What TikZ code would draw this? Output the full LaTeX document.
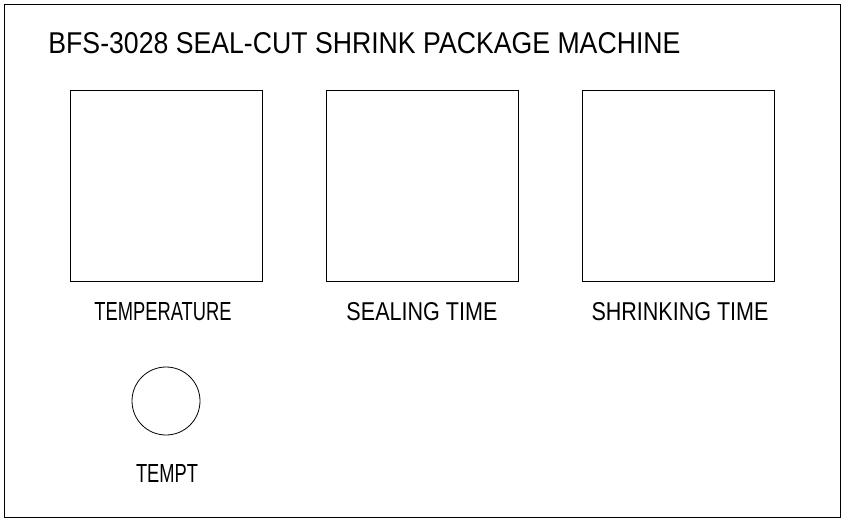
\documentclass[tikz,border=0pt]{standalone}
\usepackage{fontspec}
\usepackage{graphicx}
\setmainfont{Liberation Sans}
\begin{document}
\begin{tikzpicture}[x=1pt,y=-1pt,line width=0.8pt,
  panel/.style={draw,minimum width=192pt,minimum height=191pt,inner sep=0pt},
  lbl/.style={inner sep=0pt,anchor=center}]
\useasboundingbox (0,0) rectangle (845,522);
\node[draw,minimum width=836pt,minimum height=513pt,inner sep=0pt] (frame) at (422,260.5) {};
\node[lbl,anchor=west] (title) at (48,43) {\resizebox{632pt}{21pt}{BFS-3028 SEAL-CUT SHRINK PACKAGE MACHINE}};
\node[panel] (p1) at (166,185.5) {};
\node[panel] (p2) at (422,185.5) {};
\node[panel] (p3) at (678,185.5) {};
\node[lbl] (l1) at (163,312) {\resizebox{137pt}{18pt}{TEMPERATURE}};
\node[lbl] (l2) at (422,312) {\resizebox{151pt}{18pt}{SEALING TIME}};
\node[lbl] (l3) at (680,312) {\resizebox{177pt}{18pt}{SHRINKING TIME}};
\node[draw,circle,minimum size=68pt,inner sep=0pt] (knob) at (166,401) {};
\node[lbl] (l4) at (167,473) {\resizebox{62pt}{18pt}{TEMPT}};
\end{tikzpicture}
\end{document}
